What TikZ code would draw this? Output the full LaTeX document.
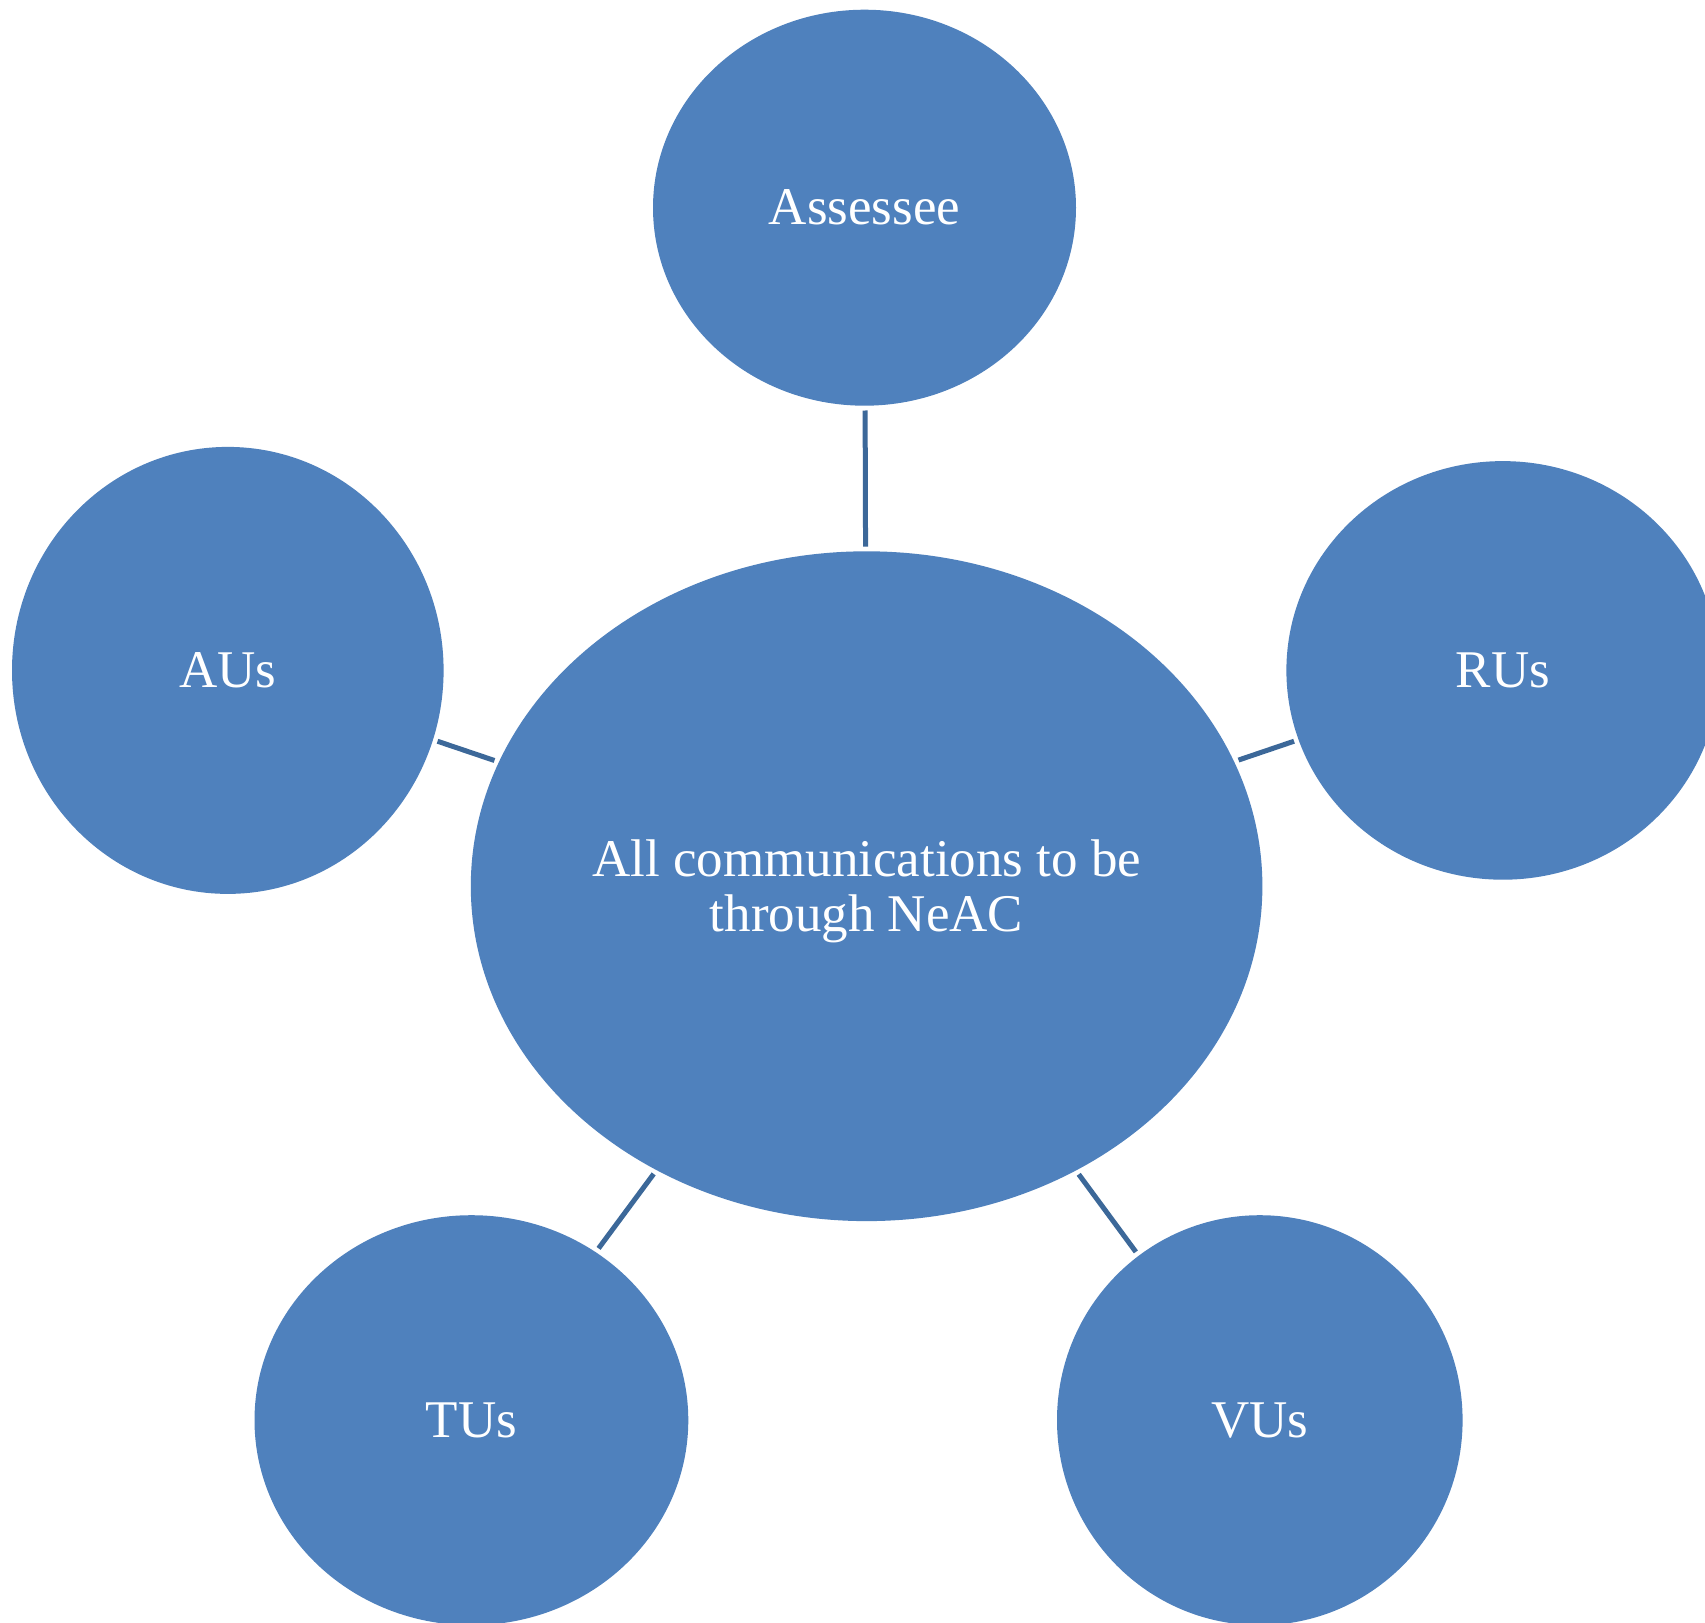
\documentclass[tikz,border=0pt]{standalone}
\usepackage{fontspec}
\setmainfont{Liberation Serif}
\usetikzlibrary{shapes.geometric}
\definecolor{bubblefill}{HTML}{4F81BD}
\definecolor{linkline}{HTML}{3C6899}
\begin{document}
\begin{tikzpicture}[x=0.5pt,y=-0.5pt,
  bubble/.style 2 args={ellipse, fill=bubblefill, draw=none, inner sep=0pt,
    minimum width=#1pt, minimum height=#2pt, text=white,
    font=\fontsize{26.5}{27.5}\selectfont, align=center},
  caption/.style={text=white, inner sep=0pt, align=center,
    font=\fontsize{26.5}{27.5}\selectfont},
  link/.style={draw=linkline, line width=2.5pt, shorten <=2.2pt, shorten >=2.2pt}]
\clip (0,0) rectangle (1705,1623);
\fill[white] (0,0) rectangle (1705,1623);
% hub and its five satellites (sizes are the semi-axes in px)
\node[bubble={395.8}{334.9}] (hub) at (866.6,886.2) {};
\node[caption] (hubtext) at ([yshift=-2.7pt]hub.center) {All communications to be\\through NeAC};
\node[bubble={211.5}{198}] (assessee) at (864.5,207.7) {Assessee};
\node[bubble={215.8}{223.5}] (aus) at (227.8,670.4) {AUs};
\node[bubble={216.4}{209.3}] (rus) at (1502.8,670.4) {RUs};
\node[bubble={216.9}{205}] (tus) at (471.4,1420.2) {TUs};
\node[bubble={202.8}{205}] (vus) at (1259.8,1420.2) {VUs};
% spokes
\draw[link] (assessee) -- (hub);
\draw[link] (aus) -- (hub);
\draw[link] (rus) -- (hub);
\draw[link] (tus) -- (hub);
\draw[link] (vus) -- (hub);
\end{tikzpicture}
\end{document}
